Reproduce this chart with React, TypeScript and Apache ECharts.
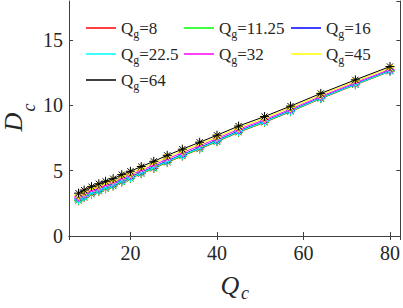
import React, { useEffect, useRef } from "react";
import * as echarts from "echarts";

const qc = [8, 9.3, 11, 12.7, 14.25, 16, 18, 20, 22.5, 25.4, 28.5, 32, 36, 40, 45, 51, 57, 64, 72, 80];

const seriesNames = ["Q_g=8", "Q_g=11.25", "Q_g=16", "Q_g=22.5", "Q_g=32", "Q_g=45", "Q_g=64"];
const seriesColors = ["#ff0000", "#00ff00", "#0000ff", "#00ffff", "#ff00ff", "#ffff00", "#000000"];

const dRed = [2.7, 2.94, 3.2, 3.42, 3.61, 3.82, 4.13, 4.4, 4.77, 5.17, 5.64, 6.12, 6.66, 7.22, 7.94, 8.7, 9.52, 10.52, 11.58, 12.61];
const dGreen = [2.73, 2.97, 3.23, 3.45, 3.64, 3.85, 4.16, 4.43, 4.8, 5.2, 5.67, 6.15, 6.69, 7.25, 7.97, 8.73, 9.55, 10.55, 11.6, 12.63];
const dBlue = [2.83, 3.07, 3.33, 3.55, 3.74, 3.95, 4.26, 4.52, 4.89, 5.3, 5.76, 6.24, 6.78, 7.33, 8.05, 8.8, 9.61, 10.6, 11.65, 12.68];
const dCyan = [2.78, 3.02, 3.28, 3.5, 3.69, 3.9, 4.21, 4.47, 4.84, 5.25, 5.71, 6.19, 6.73, 7.28, 8.0, 8.76, 9.57, 10.57, 11.62, 12.65];
const dMagenta = [2.98, 3.22, 3.48, 3.7, 3.89, 4.09, 4.41, 4.67, 5.03, 5.43, 5.9, 6.38, 6.91, 7.46, 8.17, 8.91, 9.71, 10.69, 11.74, 12.76];
const dYellow = [3.13, 3.37, 3.63, 3.85, 4.04, 4.24, 4.55, 4.81, 5.18, 5.58, 6.04, 6.52, 7.05, 7.59, 8.3, 9.04, 9.84, 10.81, 11.86, 12.88];
const dBlack = [3.28, 3.52, 3.78, 4.0, 4.19, 4.39, 4.7, 4.96, 5.32, 5.72, 6.18, 6.65, 7.18, 7.72, 8.42, 9.15, 9.95, 10.92, 11.96, 12.98];

const allD = [dRed, dGreen, dBlue, dCyan, dMagenta, dYellow, dBlack];

const xTicks = [20, 40, 60, 80];
const yTicks = [0, 5, 10, 15];

const legendColumns = [
  ["Q_g=8", "Q_g=22.5", "Q_g=64"],
  ["Q_g=11.25", "Q_g=32"],
  ["Q_g=16", "Q_g=45"],
];

const FONT = "Liberation Serif";
const AXIS_COLOR = "#404040";
const TEXT_COLOR = "#262626";
const STAR = "path://M5,0 L5,10 M0,5 L10,5 M1.6,1.6 L8.4,8.4 M1.6,8.4 L8.4,1.6";

export default function App() {
  const ref = useRef<HTMLDivElement>(null);
  useEffect(() => {
    if (!ref.current) return;
    const chart = echarts.init(ref.current, null, { renderer: "svg" });
    const legendLefts = [81, 179, 286];
    const legends = legendColumns.map((col, i) => ({
      show: true,
      orient: "vertical",
      left: legendLefts[i],
      top: 11,
      itemGap: 2,
      itemWidth: 30,
      itemHeight: 1.5,
      icon: "rect",
      itemStyle: { borderWidth: 0 },
      selectedMode: false,
      data: col,
      formatter: (name: string) => `{a|Q}{b|g}{a|=${name.split("=")[1]}}`,
      textStyle: {
        color: TEXT_COLOR,
        fontFamily: FONT,
        rich: {
          a: { fontSize: 17, fontFamily: FONT, color: TEXT_COLOR, lineHeight: 22 },
          b: { fontSize: 12, fontFamily: FONT, color: TEXT_COLOR, lineHeight: 14, padding: [12, 0, 0, 0] },
        },
      },
    }));
    chart.setOption({
      animation: false,
      backgroundColor: "#ffffff",
      textStyle: { fontFamily: FONT, fontSize: 20, color: TEXT_COLOR },
      legend: legends,
      grid: { left: 69, right: 2, top: 1, bottom: 72, containLabel: false },
      xAxis: [
        {
          type: "value",
          position: "bottom",
          min: 5.8,
          max: 82.4,
          splitNumber: 4,
          splitLine: { show: false },
          axisLine: { show: true, lineStyle: { color: AXIS_COLOR, width: 1 } },
          axisTick: { show: true, inside: true, length: 4, lineStyle: { color: AXIS_COLOR } },
          axisLabel: {
            show: true,
            fontFamily: FONT,
            fontSize: 20,
            color: TEXT_COLOR,
            margin: 7,
            showMinLabel: false,
            showMaxLabel: false,
            formatter: (v: number) => (xTicks.includes(v) ? String(v) : ""),
          },
        },
        {
          type: "value",
          position: "top",
          min: 5.8,
          max: 82.4,
          splitNumber: 4,
          splitLine: { show: false },
          axisLine: { show: true, lineStyle: { color: AXIS_COLOR, width: 1 } },
          axisTick: { show: true, inside: true, length: 4, lineStyle: { color: AXIS_COLOR } },
          axisLabel: { show: false },
        },
      ],
      yAxis: [
        {
          type: "value",
          position: "left",
          min: 0,
          max: 18,
          interval: 5,
          splitLine: { show: false },
          axisLine: { show: true, lineStyle: { color: AXIS_COLOR, width: 1 } },
          axisTick: { show: true, inside: true, length: 4, lineStyle: { color: AXIS_COLOR } },
          axisLabel: {
            show: true,
            fontFamily: FONT,
            fontSize: 20,
            color: TEXT_COLOR,
            margin: 6,
            showMaxLabel: false,
            formatter: (v: number) => (yTicks.includes(v) ? String(v) : ""),
          },
        },
        {
          type: "value",
          position: "right",
          min: 0,
          max: 18,
          interval: 5,
          splitLine: { show: false },
          axisLine: { show: true, lineStyle: { color: AXIS_COLOR, width: 1 } },
          axisTick: { show: true, inside: true, length: 4, lineStyle: { color: AXIS_COLOR } },
          axisLabel: { show: false },
        },
      ],
      series: seriesNames.map((name, i) => ({
        name,
        type: "line",
        xAxisIndex: 0,
        yAxisIndex: 0,
        data: qc.map((q, j) => [q, allD[i][j]]),
        color: seriesColors[i],
        symbol: STAR,
        symbolSize: 9,
        symbolKeepAspect: true,
        lineStyle: { color: seriesColors[i], width: 1 },
        itemStyle: { color: seriesColors[i], borderColor: seriesColors[i], borderWidth: 1 },
        emphasis: { disabled: true },
        z: 2 + i,
      })),
      graphic: [
        {
          type: "text",
          x: 230,
          y: 285,
          style: { text: "Q", fontFamily: FONT, fontStyle: "italic", fontSize: 26, fill: TEXT_COLOR, align: "center", verticalAlign: "middle" },
        },
        {
          type: "text",
          x: 245,
          y: 293,
          style: { text: "c", fontFamily: FONT, fontStyle: "italic", fontSize: 18, fill: TEXT_COLOR, align: "center", verticalAlign: "middle" },
        },
        {
          type: "text",
          x: 13,
          y: 122,
          rotation: Math.PI / 2,
          style: { text: "D", fontFamily: FONT, fontStyle: "italic", fontSize: 26, fill: TEXT_COLOR, align: "center", verticalAlign: "middle" },
        },
        {
          type: "text",
          x: 29,
          y: 107.5,
          rotation: Math.PI / 2,
          style: { text: "c", fontFamily: FONT, fontStyle: "italic", fontSize: 18, fill: TEXT_COLOR, align: "center", verticalAlign: "middle" },
        },
      ],
    });
    return () => chart.dispose();
  }, []);
  return <div ref={ref} style={{ width: 403, height: 308, position: "absolute", left: 0, top: 0 }} />;
}
